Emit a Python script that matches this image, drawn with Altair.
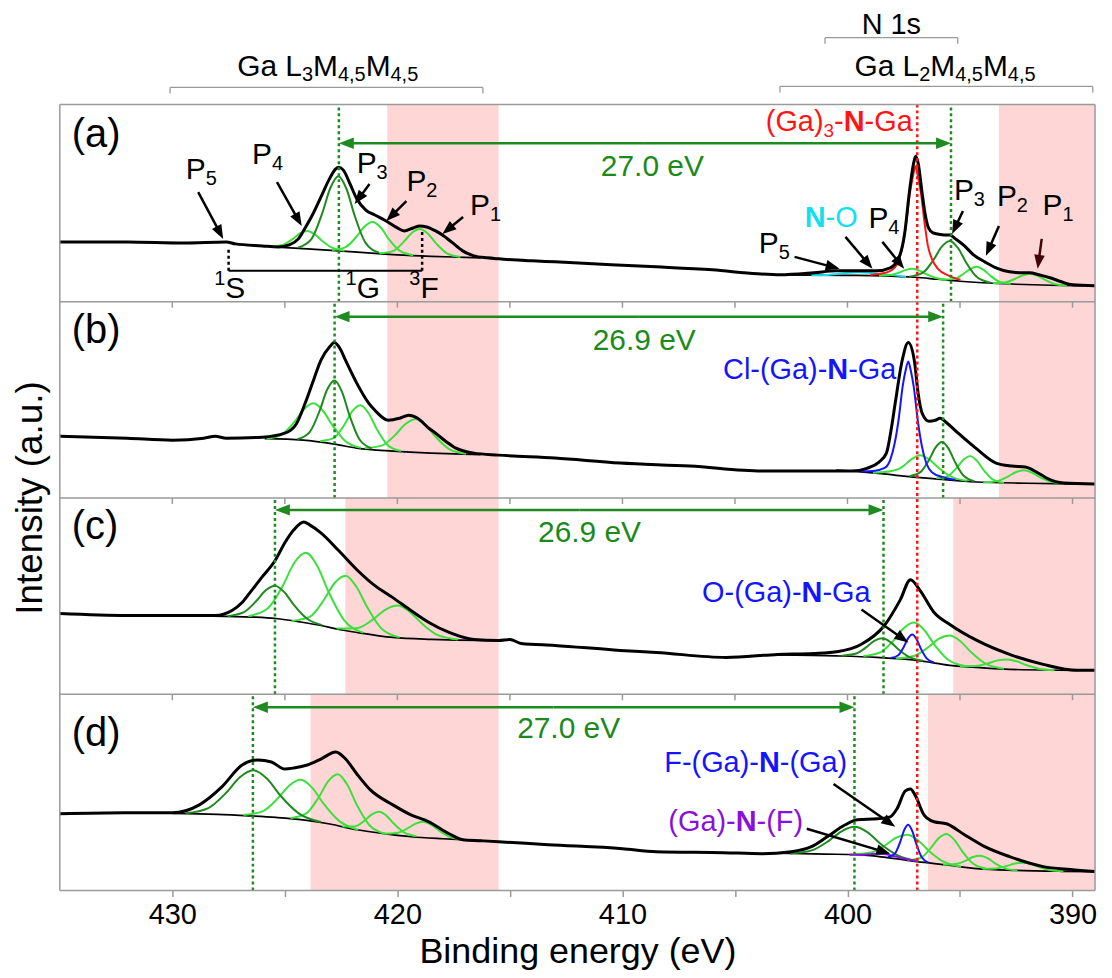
import math
import altair as alt
import pandas as pd

FONT = "Liberation Sans"
PLOT_W, PLOT_H = 1039, 789
E_HI, E_LO = 435.0, 389.0
PPE = PLOT_W / (E_HI - E_LO)          # pixels per eV

TICK_VALUES = [430, 425, 420, 415, 410, 405, 400, 395, 390]
BASE = {"a": 591, "b": 394, "c": 197, "d": 0, "top": 0}
TOPY = {"a": 789, "b": 591, "c": 394, "d": 197}

BLACK = "#000000"
DG = "#1e8a1e"
LG = "#3ce03c"
RED = "#ff1414"
BLUE = "#1414ff"
CYAN = "#12dff0"
PURPLE = "#8a10e0"
PINK = "#ffd6d6"
FRAME = "#9a9a9a"
GTXT = "#1b8a1b"
GARROW = "#1f8a1f"
MAROON = "#420808"

# ---------------- measured spectra (binding energy, intensity a.u.) ----------------
A_DATA_E = [435.0, 432.0, 429.5, 427.6, 427.2, 426.0, 425.3, 424.8, 424.4, 424.1, 423.8, 423.4, 423.0, 422.75,
            422.6, 422.4, 422.1, 421.8, 421.4, 421.0, 420.5, 420.0, 419.7, 419.3, 419.0, 418.7, 418.3, 418.0,
            417.6, 417.1, 416.6, 416.0, 415.5, 414.0, 413.0, 410.5, 408.5, 406.0, 404.0, 403.0, 401.5, 400.5,
            399.5, 398.7, 398.1, 397.7, 397.45, 397.25, 397.05, 396.97, 396.85, 396.7, 396.55, 396.4, 396.2,
            396.0, 395.7, 395.45, 395.2, 394.8, 394.4, 393.9, 393.4, 392.8, 392.2, 391.9, 391.5, 391.0, 390.5,
            390.0, 389.0]
A_DATA_I = [60, 60, 59, 60, 58, 56, 55, 57, 63, 74, 86, 105, 124, 133,
            135, 132, 118, 103, 92, 87, 81, 74, 71, 74, 76, 75, 71, 67,
            60, 51, 46, 44, 43, 41, 40, 37, 35, 32, 28, 27, 29, 31,
            31, 31, 34, 45, 70, 110, 140, 146, 138, 112, 88, 74, 69,
            68, 67, 67, 63, 56, 47, 40, 34, 30, 29, 29, 27, 24, 20,
            17, 16]

B_DATA_E = [435.0, 432.0, 430.0, 428.6, 428.1, 427.6, 426.0, 425.0, 424.5, 424.1, 423.7, 423.4, 423.0, 422.8,
            422.55, 422.3, 421.8, 421.3, 421.0, 420.4, 419.9, 419.5, 419.1, 418.6, 418.3, 417.8, 417.4, 416.6,
            415.5, 413.0, 410.1, 407.0, 403.8, 401.5, 399.8, 399.1, 398.6, 398.27, 398.05, 397.88, 397.57, 397.3,
            397.03, 396.86, 396.68, 396.37, 396.1, 395.88, 395.57, 395.08, 394.3, 393.4, 392.7, 392.1, 391.6,
            391.15, 390.4, 389.0]
B_DATA_I = [62, 60, 58, 60, 62, 60, 61, 65, 74, 95, 120, 138, 152, 156,
            150, 138, 115, 96, 88, 78, 80, 83, 80, 70, 65, 56, 50, 45,
            43, 40, 35, 32, 27, 27, 27, 30, 36, 45, 70, 95, 138, 156,
            138, 105, 85, 77, 78, 80, 75, 65, 50, 35, 32, 31, 26,
            20, 15, 14]

C_DATA_E = [435.0, 432.0, 430.0, 428.1, 427.35, 426.9, 426.55, 426.0, 425.44, 425.0, 424.6, 424.16, 423.9, 423.4,
            422.6, 421.8, 421.0, 420.2, 419.4, 418.6, 417.7, 416.6, 415.5, 415.0, 414.5, 413.0, 410.1, 408.5,
            405.4, 403.1, 401.5, 400.4, 399.4, 398.36, 397.65, 397.2, 396.77, 396.15, 395.45, 394.25, 392.8,
            391.3, 389.8, 389.0]
C_DATA_I = [81, 79, 79, 79, 84, 92, 102, 118, 134, 152, 165, 173, 170, 162,
            144, 125, 109, 97, 84, 72, 62, 55, 54, 55, 51, 49, 44, 42,
            37, 40, 41, 43, 50, 69, 95, 115, 104, 82, 70, 54, 40,
            30, 24, 24]

D_DATA_E = [435.0, 432.1, 430.0, 428.8, 427.8, 426.9, 426.2, 425.6, 425.0, 424.6, 424.0, 423.4, 422.74, 422.3,
            421.8, 421.2, 420.2, 419.4, 418.6, 417.7, 417.1, 416.3, 415.5, 413.3, 410.0, 408.5, 405.5, 403.8,
            402.5, 401.6, 400.9, 400.1, 399.56, 398.67, 398.1, 397.8, 397.43, 397.2, 397.0, 396.6, 396.15,
            395.6, 394.8, 393.9, 392.8, 391.3, 390.1, 389.0]
D_DATA_I = [77, 78, 78, 86, 104, 126, 131, 129, 122, 123, 126, 132, 139, 132,
            117, 101, 86, 76, 69, 57, 51, 50, 49, 46, 42, 39, 38, 37,
            39, 44, 54, 66, 71, 72, 74, 82, 100, 102, 96, 76, 69,
            67, 56, 44, 34, 24, 21, 19]

# ---------------- backgrounds ----------------
A_BG_GA = ([425.5, 424.0, 422.6, 421.0, 420.0, 418.5, 417.0, 416.3], [55, 53, 51, 48.5, 47, 45.5, 44.5, 44])
A_BG_N = ([403.2, 400.0, 398.5, 397.0, 396.0, 395.0, 394.0, 392.5, 391.0, 389.5],
          [27, 26.5, 26, 24.5, 22.5, 20.5, 19, 17.5, 16.5, 16])
B_BG_GA = ([425.9, 424.2, 422.8, 421.8, 420.2, 418.5, 417.1, 416.3], [59.5, 58, 54, 50, 47, 45, 44, 43.5])
B_BG_N = ([400.5, 399.8, 398.5, 397.5, 396.0, 394.3, 392.0, 389.5], [28, 27, 24.5, 22, 19, 16, 14.8, 14])
C_BG_GA = ([428.2, 426.5, 425.4, 424.3, 423.4, 422.6, 421.8, 420.2, 418.5, 416.3, 415.5],
           [78.5, 77.5, 76, 72.5, 69, 65, 62, 57, 55, 54, 54])
C_BG_N = ([403.1, 400.5, 398.7, 396.9, 395.45, 394.0, 392.8, 389.8], [39.5, 38.5, 37, 34, 29, 26.5, 25, 24])
D_BG_GA = ([430.0, 428.0, 426.6, 425.4, 424.2, 423.0, 421.8, 420.5, 419.4, 418.0, 417.1, 416.3],
           [77.5, 76.5, 75, 73.4, 71, 66.8, 61, 56.8, 54, 52, 51, 50.2])
D_BG_N = ([403.1, 401.0, 399.56, 398.3, 396.9, 395.5, 394.25, 392.5, 390.5, 389.0],
          [37.5, 36.6, 36, 33.3, 29, 25.5, 22, 20.2, 19.3, 19])

# ---------------- fitted components ----------------
A_GA_1 = ([425.65, 425.1, 424.66, 424.33, 424.0, 423.67, 423.34, 422.9, 422.35], [55.2, 56.9, 62.8, 68.5, 71, 67.5, 61, 54.2, 51.2])
A_GA_2 = ([424.42, 423.82, 423.34, 422.98, 422.62, 422.26, 421.9, 421.42, 420.82], [54.3, 62.9, 88.7, 114.1, 126, 113.1, 86.5, 59.3, 49.1])
A_GA_3 = ([422.9, 422.3, 421.82, 421.46, 421.1, 420.74, 420.38, 419.9, 419.3], [51.8, 54.8, 65.2, 75.5, 80, 74.4, 62.9, 51.3, 46.7])
A_GA_4 = ([420.8, 420.2, 419.72, 419.36, 419.0, 418.64, 418.28, 417.8, 417.2], [48.5, 50.8, 60, 69, 73, 68.2, 58.5, 48.6, 44.9])
A_N_NO = ([401.6, 400.9, 400.34, 399.92, 399.5, 399.08, 398.66, 398.1, 397.4], [26.5, 26.9, 28, 29, 29.5, 29, 28, 26.9, 25])
A_N_4 = ([398.6, 398.1, 397.7, 397.4, 397.1, 396.8, 396.5, 396.1, 395.6], [26.1, 26.7, 29.3, 31.9, 33, 31.2, 27.7, 24, 21.9])
A_N_RED = ([398.98, 398.48, 397.98, 397.73, 397.53, 397.38, 397.23, 397.1, 396.98, 396.86, 396.73, 396.58,
            396.43, 396.23, 395.98, 395.48, 394.98],
           [26.9, 28.2, 32.6, 41.3, 58, 80.9, 108.7, 124.6, 136, 124.3, 108.1, 79.8, 56.5, 42, 33, 26, 22])
A_N_3 = ([397.25, 396.65, 396.17, 395.81, 395.45, 395.09, 394.73, 394.25, 393.65], [25.1, 29.1, 42.2, 55.2, 61, 53.9, 39.4, 24.7, 19.1])
A_N_2 = ([395.75, 395.25, 394.85, 394.55, 394.25, 393.95, 393.65, 393.25, 392.75], [22.2, 22.9, 27.8, 32.7, 35, 31.9, 26.1, 20.1, 18])
A_N_1 = ([393.55, 393.0, 392.56, 392.23, 391.9, 391.57, 391.24, 390.8, 390.25], [18.5, 19.3, 22.8, 26.3, 28, 26.1, 22.1, 17.8, 16.2])

B_GA_1 = ([425.82, 425.12, 424.56, 424.14, 423.72, 423.3, 422.88, 422.32, 421.62], [59.4, 63.9, 76.8, 89.3, 95, 87.3, 72.8, 57.3, 50.4])
B_GA_2 = ([424.44, 423.89, 423.45, 423.12, 422.79, 422.46, 422.13, 421.69, 421.14], [58.9, 66.4, 87.8, 108.8, 118, 106.4, 83, 59, 49.7])
B_GA_3 = ([423.44, 422.84, 422.36, 422.0, 421.64, 421.28, 420.92, 420.44, 419.84], [57, 60, 73.3, 87.1, 93, 85, 69.3, 53.2, 47.1])
B_GA_4 = ([421.45, 420.7, 420.1, 419.65, 419.2, 418.75, 418.3, 417.7, 416.95], [49.9, 52.5, 63.1, 74, 79, 73.2, 61.3, 49.1, 44.4])
B_N_BLUE = ([399.4, 398.85, 398.35, 398.1, 397.9, 397.72, 397.55, 397.42, 397.3, 397.18, 397.05, 396.88,
             396.7, 396.5, 396.25, 395.75, 395.2],
            [26.6, 27, 30.1, 38.3, 55.1, 80, 111.8, 127.6, 137, 127.2, 110.8, 78.3, 52.7, 35.1, 25.9, 20.8, 18.1])
B_N_4 = ([398.87, 398.17, 397.61, 397.19, 396.77, 396.35, 395.93, 395.37, 394.67], [25.3, 26.5, 30.4, 38.3, 42.9, 38.4, 29.9, 21.2, 17.2])
B_N_3 = ([397.24, 396.76, 396.38, 396.09, 395.8, 395.51, 395.22, 394.84, 394.36], [21.9, 25.9, 38.1, 50.5, 56.1, 49.5, 36, 22.3, 16.8])
B_N_2 = ([396.05, 395.55, 395.15, 394.85, 394.55, 394.25, 393.95, 393.55, 393.05], [19.8, 21.9, 30.2, 38.3, 42, 37.3, 28, 18.7, 15.3])
B_N_1 = ([393.97, 393.37, 392.89, 392.53, 392.17, 391.81, 391.45, 390.97, 390.37], [15.4, 16.9, 21.3, 25.8, 27.8, 25.6, 20.9, 16.3, 14.5])

C_GA_1 = ([427.54, 426.84, 426.28, 425.86, 425.44, 425.02, 424.6, 424.04, 423.34], [78.4, 82.1, 93.3, 104.1, 109, 102.4, 89.6, 76.2, 69.4])
C_GA_2 = ([426.62, 425.77, 425.09, 424.58, 424.07, 423.56, 423.05, 422.37, 421.52], [78.3, 86, 109, 132, 142, 128.8, 102.4, 74.5, 61.8])
C_GA_3 = ([424.7, 423.9, 423.26, 422.78, 422.3, 421.82, 421.34, 420.7, 419.9], [73.6, 77.6, 94.8, 111.9, 119, 107.9, 87.3, 65.7, 57.1])
C_GA_4 = ([422.7, 421.8, 421.08, 420.54, 420.0, 419.46, 418.92, 418.2, 417.3], [65.9, 66.3, 75.1, 84.7, 89, 82.9, 71.2, 59.3, 54.9])
C_N_DG = ([400.25, 399.65, 399.17, 398.81, 398.45, 398.09, 397.73, 397.25, 396.65], [38.7, 40.6, 47.1, 53.5, 56.1, 52.3, 44.9, 37.3, 33.7])
C_N_LG1 = ([399.29, 398.54, 397.94, 397.49, 397.04, 396.59, 396.14, 395.54, 394.79], [38.4, 42.1, 54.2, 66.5, 72, 64.5, 49.9, 34.9, 28.4])
C_N_BLUE = ([398.08, 397.76, 397.5, 397.31, 397.12, 396.93, 396.74, 396.48, 396.16], [36.3, 38.9, 47.5, 56.1, 60, 55.3, 45.8, 36, 31.8])
C_N_LG2 = ([397.85, 397.05, 396.41, 395.93, 395.45, 394.97, 394.49, 393.85, 393.05], [35.9, 38.4, 47.2, 55.8, 59, 53, 41.8, 30.5, 25.7])
C_N_LG3 = ([395.0, 394.3, 393.74, 393.32, 392.9, 392.48, 392.06, 391.5, 390.8], [28.2, 28.4, 31.1, 34, 35, 33.1, 29.4, 25.7, 24.2])

D_GA_1 = ([429.4, 428.4, 427.6, 427.0, 426.4, 425.8, 425.2, 424.4, 423.4], [77.5, 82.8, 98.4, 113.8, 120.8, 112.4, 95.4, 77.7, 68.7])
D_GA_2 = ([426.84, 425.99, 425.31, 424.8, 424.29, 423.78, 423.27, 422.59, 421.74], [75.8, 79.5, 92.5, 105.5, 111.2, 103.1, 86.9, 69.9, 61.0])
D_GA_3 = ([424.75, 424.05, 423.49, 423.07, 422.65, 422.23, 421.81, 421.25, 420.55], [72.6, 77.4, 93.7, 109.9, 116.8, 106.4, 86.3, 65.8, 57.0])
D_GA_4 = ([422.45, 421.9, 421.46, 421.13, 420.8, 420.47, 420.14, 419.7, 419.15], [64.2, 64.3, 70.2, 76.5, 79, 74.7, 66.7, 58.3, 54.5])
D_GA_5 = ([420.65, 420.05, 419.57, 419.21, 418.85, 418.49, 418.13, 417.65, 417.05], [57, 57.7, 62.1, 66.9, 69.1, 65.9, 59.9, 53.7, 51.2])
D_N_DG = ([402.54, 401.59, 400.83, 400.26, 399.69, 399.12, 398.55, 397.79, 396.84], [37.1, 40.3, 49.9, 59.5, 63.9, 58.6, 47.3, 35.6, 29.3])
D_N_LGA = ([399.75, 398.95, 398.31, 397.83, 397.35, 396.87, 396.39, 395.75, 394.95], [36.3, 38.2, 45.7, 53.2, 56, 50.5, 40, 29.2, 23.8])
D_N_PURPLE = ([399.9, 399.4, 399.0, 398.7, 398.4, 398.1, 397.8, 397.4, 396.9], [36, 35.9, 36.5, 36.9, 36.7, 35.5, 33.8, 31.6, 29.5])
D_N_BLUE = ([398.2, 397.9, 397.66, 397.48, 397.3, 397.12, 396.94, 396.7, 396.4], [33.8, 36.9, 48.5, 60.6, 66, 59.6, 46.7, 33.4, 28])
D_N_LGB = ([397.34, 396.76, 396.3, 395.95, 395.6, 395.25, 394.9, 394.44, 393.86], [30.3, 32.7, 42.6, 52.4, 56.8, 50.9, 39.3, 27.4, 22.1])
D_N_LGC = ([395.75, 395.2, 394.76, 394.43, 394.1, 393.77, 393.44, 393.0, 392.45], [25.9, 26.6, 29.8, 33.6, 35, 32.4, 27.3, 22.3, 20.1])
D_N_LGD = ([394.0, 393.4, 392.92, 392.56, 392.2, 391.84, 391.48, 391.0, 390.4], [21.9, 22.2, 24.6, 27.1, 28, 26.5, 23.5, 20.5, 19.3])

# ---------------- annotation values ----------------
PINK_PANEL = ["a", "a", "b", "b", "c", "c", "d", "d"]
PINK_E1 = [420.45, 393.27, 420.45, 393.27, 422.31, 395.3, 423.86, 396.42]
PINK_E2 = [415.5, 389.0, 415.5, 389.0, 415.5, 389.0, 415.5, 389.0]

GDOT_PANEL = ["a", "a", "b", "b", "c", "c", "d", "d"]
GDOT_E = [422.6, 395.4, 422.79, 395.75, 425.44, 398.4, 426.42, 399.69]
RED_DOT_E = 396.9

SHIFT_PANEL = ["a", "b", "c", "d"]
SHIFT_E1 = [422.6, 422.79, 425.44, 426.42]
SHIFT_E2 = [395.4, 395.75, 398.4, 399.69]
SHIFT_H = [159, 182, 185, 184]
SHIFT_TEXT = ["27.0 eV", "26.9 eV", "26.9 eV", "27.0 eV"]
SHIFT_TEXT_E = [408.67, 409.03, 411.46, 412.39]
SHIFT_TEXT_H = [135, 158, 162, 162]

ARROW_PANEL = ["a"] * 11 + ["c", "d", "d"]
ARROW_E1 = [428.85, 425.35, 421.24, 419.6, 417.08, 402.35, 400.09, 398.45, 394.87, 393.27, 391.37, 399.38, 400.62, 401.81]
ARROW_H1 = [110, 120, 118, 101, 85, 45, 65, 60, 91, 76, 63, 85, 107, 62]
ARROW_E2 = [427.74, 424.25, 421.9, 420.49, 418.0, 400.35, 398.89, 397.48, 395.35, 393.85, 391.55, 397.3, 397.88, 398.1]
ARROW_H2 = [63, 76, 98, 81, 68, 33, 33, 33, 68, 46, 33, 52, 64, 37]
ARROW_COLOR = [BLACK] * 10 + [MAROON] + [BLACK] * 3

P_SUB = ["5", "4", "3", "2", "1", "5", "4", "3", "2", "1"]
P_E = [429.4, 426.46, 421.81, 419.6, 416.77, 403.94, 399.07, 395.27, 393.36, 391.33]
P_H = [132, 147, 138, 120, 96, 58, 83, 111, 105, 96]

PANEL_LABELS = ["(a)", "(b)", "(c)", "(d)"]
PANEL_LABEL_H = [167, 168, 168, 157]
PANEL_LABEL_E = 434.47

TERM_E = [427.5, 418.9]
TERM_TOP = [53, 72]
TERM_LINE_H = 31

BRACKET_E1 = [401.0, 403.0, 430.1]
BRACKET_E2 = [395.1, 389.1, 416.2]
BRACKET_Y = [856, 807, 806]

# ---------------- build tables ----------------
data_rows, bg_rows, comp_rows = [], [], []


def add_curve(rows, panel, name, pair, color):
    for e, i in zip(pair[0], pair[1]):
        rows.append({"E": e, "Y": BASE[panel] + i, "key": f"{panel}-{name}", "color": color})


for p, E, I in [("a", A_DATA_E, A_DATA_I), ("b", B_DATA_E, B_DATA_I),
                ("c", C_DATA_E, C_DATA_I), ("d", D_DATA_E, D_DATA_I)]:
    add_curve(data_rows, p, "data", (E, I), BLACK)

for p, n, pair in [("a", "g", A_BG_GA), ("a", "n", A_BG_N), ("b", "g", B_BG_GA), ("b", "n", B_BG_N),
                   ("c", "g", C_BG_GA), ("c", "n", C_BG_N), ("d", "g", D_BG_GA), ("d", "n", D_BG_N)]:
    add_curve(bg_rows, p, "bg" + n, pair, BLACK)

COMPONENTS = [
    ("a", "g1", A_GA_1, LG), ("a", "g3", A_GA_3, LG), ("a", "g4", A_GA_4, LG), ("a", "g2", A_GA_2, DG),
    ("a", "no", A_N_NO, CYAN), ("a", "n4", A_N_4, LG), ("a", "n2", A_N_2, LG), ("a", "n1", A_N_1, LG),
    ("a", "n3", A_N_3, DG), ("a", "red", A_N_RED, RED),
    ("b", "g1", B_GA_1, LG), ("b", "g3", B_GA_3, LG), ("b", "g4", B_GA_4, LG), ("b", "g2", B_GA_2, DG),
    ("b", "n4", B_N_4, LG), ("b", "n2", B_N_2, LG), ("b", "n1", B_N_1, LG), ("b", "n3", B_N_3, DG),
    ("b", "blue", B_N_BLUE, BLUE),
    ("c", "g2", C_GA_2, LG), ("c", "g3", C_GA_3, LG), ("c", "g4", C_GA_4, LG), ("c", "g1", C_GA_1, DG),
    ("c", "n1", C_N_LG1, LG), ("c", "n2", C_N_LG2, LG), ("c", "n3", C_N_LG3, LG), ("c", "dg", C_N_DG, DG),
    ("c", "blue", C_N_BLUE, BLUE),
    ("d", "g2", D_GA_2, LG), ("d", "g3", D_GA_3, LG), ("d", "g4", D_GA_4, LG), ("d", "g5", D_GA_5, LG),
    ("d", "g1", D_GA_1, DG),
    ("d", "na", D_N_LGA, LG), ("d", "nb", D_N_LGB, LG), ("d", "nc", D_N_LGC, LG), ("d", "nd", D_N_LGD, LG),
    ("d", "dg", D_N_DG, DG), ("d", "pur", D_N_PURPLE, PURPLE), ("d", "blue", D_N_BLUE, BLUE),
]
for i, (p, n, pair, col) in enumerate(COMPONENTS):
    add_curve(comp_rows, p, f"{i:02d}{n}", pair, col)

data_df = pd.DataFrame(data_rows)
bg_df = pd.DataFrame(bg_rows)
comp_df = pd.DataFrame(comp_rows)

pink_df = pd.DataFrame({
    "E1": PINK_E1, "E2": PINK_E2,
    "Y1": [BASE[p] for p in PINK_PANEL], "Y2": [TOPY[p] for p in PINK_PANEL],
})

# frame: separators, outer box, ticks hanging below each panel join
frame_rows = []
for yb in [0, 197, 394, 591, 789]:
    frame_rows.append({"E1": E_HI, "E2": E_LO, "Y1": yb, "Y2": yb})
for e in [E_HI, E_LO]:
    frame_rows.append({"E1": e, "E2": e, "Y1": 0, "Y2": 789})
for yb in [197, 394, 591]:
    for t in TICK_VALUES:
        frame_rows.append({"E1": t, "E2": t, "Y1": yb, "Y2": yb - 6})
frame_df = pd.DataFrame(frame_rows)

dot_rows = []
for p, e in zip(GDOT_PANEL, GDOT_E):
    dot_rows.append({"E1": e, "Y1": BASE[p], "Y2": TOPY[p], "color": GARROW})
dot_rows.append({"E1": RED_DOT_E, "Y1": 0, "Y2": 789, "color": RED})
for e, top in zip(TERM_E, TERM_TOP):
    dot_rows.append({"E1": e, "Y1": BASE["a"] + TERM_LINE_H, "Y2": BASE["a"] + top, "color": BLACK})
dot_df = pd.DataFrame(dot_rows)

arrow_rows, head_rows = [], []
SHAPE = "M0,0L-0.38,1L0.38,1Z"


def add_arrow(E1, Y1, E2, Y2, color, width, head):
    dx = (E1 - E2) * PPE
    dy = (Y2 - Y1)
    L = math.hypot(dx, dy)
    ux, uy = dx / L, dy / L
    back = head * 0.75
    arrow_rows.append({"E1": E1, "Y1": Y1, "E2": E2 + ux * back / PPE, "Y2": Y2 - uy * back,
                       "color": color, "w": width})
    ang = math.degrees(math.atan2(dx, dy)) % 360
    head_rows.append({"E": E2, "Y": Y2, "ang": ang, "color": color, "s": 4 * head * head})


for p, e1, h1, e2, h2, col in zip(ARROW_PANEL, ARROW_E1, ARROW_H1, ARROW_E2, ARROW_H2, ARROW_COLOR):
    add_arrow(e1, BASE[p] + h1, e2, BASE[p] + h2, col, 2.5, 14)

for p, e1, e2, h in zip(SHIFT_PANEL, SHIFT_E1, SHIFT_E2, SHIFT_H):
    mid = (e1 + e2) / 2
    add_arrow(mid, BASE[p] + h, e1, BASE[p] + h, GARROW, 2.5, 15)
    add_arrow(mid, BASE[p] + h, e2, BASE[p] + h, GARROW, 2.5, 15)

# solid black line of the 1S-1G-3F scale
arrow_rows.append({"E1": TERM_E[0], "Y1": BASE["a"] + TERM_LINE_H, "E2": TERM_E[1],
                   "Y2": BASE["a"] + TERM_LINE_H, "color": BLACK, "w": 2})
arrow_df = pd.DataFrame(arrow_rows)
head_df = pd.DataFrame(head_rows)

br_rows = []
for e1, e2, y in zip(BRACKET_E1, BRACKET_E2, BRACKET_Y):
    br_rows.append({"E1": e1, "E2": e2, "Y1": y, "Y2": y})
    br_rows.append({"E1": e1, "E2": e1, "Y1": y, "Y2": y - 6})
    br_rows.append({"E1": e2, "E2": e2, "Y1": y, "Y2": y - 6})
br_df = pd.DataFrame(br_rows)

# ---------------- text (segments for sub/superscripts and bold) ----------------
CW = {"(": 333, ")": 333, "G": 778, "a": 556, "-": 333, "N": 722, "C": 722, "l": 222, "O": 778,
      "F": 611, "P": 667, "S": 667, " ": 278, "L": 556, "M": 833, ",": 278, "e": 556, "V": 667,
      ".": 278, "s": 500}
norm_rows, bold_rows = [], []


def seg_size(kind, size):
    return size if kind in ("n", "b") else round(size * 0.65)


def twidth(s, fs):
    return sum(CW.get(ch, 556) for ch in s) * fs / 1000.0


def label(E_left, Y, parts, color, size):
    x = 0.0
    for txt, kind in parts:
        fs = seg_size(kind, size)
        dy = {"n": 0, "b": 0, "sub": -0.3 * size, "sup": 0.33 * size}[kind]
        row = {"E": E_left - x / PPE, "Y": Y + dy, "text": txt, "color": color, "size": fs}
        (bold_rows if kind == "b" else norm_rows).append(row)
        x += twidth(txt, fs)


def label_c(E_c, Y, parts, color, size):
    total = sum(twidth(t, seg_size(k, size)) for t, k in parts)
    label(E_c + total / 2 / PPE, Y, parts, color, size)


for txt, h, p in zip(PANEL_LABELS, PANEL_LABEL_H, ["a", "b", "c", "d"]):
    label(PANEL_LABEL_E, BASE[p] + h, [(txt, "n")], BLACK, 40)

for s, e, h in zip(P_SUB, P_E, P_H):
    label(e, BASE["a"] + h, [("P", "n"), (s, "sub")], BLACK, 30)

label(401.9, BASE["a"] + 84, [("N", "b"), ("-O", "n")], CYAN, 29)
label(403.63, BASE["a"] + 180, [("(Ga)", "n"), ("3", "sub"), ("-", "n"), ("N", "b"), ("-Ga", "n")], RED, 29)
label(405.53, BASE["b"] + 128, [("Cl-(Ga)-", "n"), ("N", "b"), ("-Ga", "n")], BLUE, 29)
label(406.46, BASE["c"] + 102, [("O-(Ga)-", "n"), ("N", "b"), ("-Ga", "n")], BLUE, 29)
label(408.14, BASE["d"] + 128, [("F-(Ga)-", "n"), ("N", "b"), ("-(Ga)", "n")], BLUE, 29)
label(407.96, BASE["d"] + 69, [("(Ga)-", "n"), ("N", "b"), ("-(F)", "n")], PURPLE, 29)

for p, t, e, h in zip(SHIFT_PANEL, SHIFT_TEXT, SHIFT_TEXT_E, SHIFT_TEXT_H):
    label_c(e, BASE[p] + h, [(t, "n")], GTXT, 30)

label(428.14, BASE["a"] + 13, [("1", "sup"), ("S", "n")], BLACK, 30)
label(422.3, BASE["a"] + 13, [("1", "sup"), ("G", "n")], BLACK, 30)
label(419.47, BASE["a"] + 13, [("3", "sup"), ("F", "n")], BLACK, 30)

label_c(398.05, 869, [("N 1s", "n")], BLACK, 29)
label(399.69, 827, [("Ga L", "n"), ("2", "sub"), ("M", "n"), ("4,5", "sub"), ("M", "n"), ("4,5", "sub")], BLACK, 30)
label(427.12, 827, [("Ga L", "n"), ("3", "sub"), ("M", "n"), ("4,5", "sub"), ("M", "n"), ("4,5", "sub")], BLACK, 30)

norm_df = pd.DataFrame(norm_rows)
bold_df = pd.DataFrame(bold_rows)

# ---------------- encodings ----------------
X_SCALE = alt.Scale(domain=[E_LO, E_HI], reverse=True, nice=False, zero=False)
Y_SCALE = alt.Scale(domain=[0, PLOT_H], nice=False, zero=False)
X_AXIS = alt.Axis(values=TICK_VALUES, labelExpr="datum.value % 10 === 0 ? datum.label : ''",
                  tickSize=6, tickWidth=1.5, tickColor=FRAME, domain=False, grid=False,
                  labelFont=FONT, labelFontSize=29, labelColor="black", labelPadding=4,
                  title="Binding energy (eV)", titleFont=FONT, titleFontSize=36,
                  titleFontWeight="normal", titleColor="black", titlePadding=5)
Y_AXIS = alt.Axis(title="Intensity (a.u.)", labels=False, ticks=False, domain=False, grid=False,
                  titleFont=FONT, titleFontSize=37, titleFontWeight="normal", titleColor="black",
                  titlePadding=10)


def X(f):
    return alt.X(f, type="quantitative", scale=X_SCALE, axis=X_AXIS)


def Y(f):
    return alt.Y(f, type="quantitative", scale=Y_SCALE, axis=Y_AXIS)


pink = alt.Chart(pink_df).mark_rect(color=PINK).encode(x=X("E1"), x2="E2:Q", y=Y("Y1"), y2="Y2:Q")

frame = alt.Chart(frame_df).mark_rule(color=FRAME, strokeWidth=1.5).encode(
    x=X("E1"), x2="E2:Q", y=Y("Y1"), y2="Y2:Q")

bg = alt.Chart(bg_df).mark_line(color=BLACK, strokeWidth=1.7, interpolate="monotone").encode(
    x=X("E"), y=Y("Y"), detail="key:N", order=alt.Order("E:Q", sort="descending"))

comps = alt.Chart(comp_df).mark_line(strokeWidth=2, interpolate="monotone").encode(
    x=X("E"), y=Y("Y"), detail="key:N", color=alt.Color("color:N", scale=None),
    order=alt.Order("E:Q", sort="descending"))

data = alt.Chart(data_df).mark_line(color=BLACK, strokeWidth=3, interpolate="monotone",
                                    strokeJoin="round").encode(
    x=X("E"), y=Y("Y"), detail="key:N", order=alt.Order("E:Q", sort="descending"))

dots = alt.Chart(dot_df).mark_rule(strokeDash=[3, 3], strokeWidth=2.5).encode(
    x=X("E1"), y=Y("Y1"), y2="Y2:Q", color=alt.Color("color:N", scale=None))

arrows = alt.Chart(arrow_df).mark_rule().encode(
    x=X("E1"), x2="E2:Q", y=Y("Y1"), y2="Y2:Q", color=alt.Color("color:N", scale=None),
    size=alt.Size("w:Q", scale=None))

heads = alt.Chart(head_df).mark_point(shape=SHAPE, filled=True, opacity=1, strokeWidth=0).encode(
    x=X("E"), y=Y("Y"), angle=alt.Angle("ang:Q", scale=None), color=alt.Color("color:N", scale=None),
    size=alt.Size("s:Q", scale=None))

brackets = alt.Chart(br_df).mark_rule(color=FRAME, strokeWidth=1.3).encode(
    x=X("E1"), x2="E2:Q", y=Y("Y1"), y2="Y2:Q")

texts = alt.Chart(norm_df).mark_text(align="left", baseline="middle", font=FONT).encode(
    x=X("E"), y=Y("Y"), text="text:N", color=alt.Color("color:N", scale=None),
    size=alt.Size("size:Q", scale=None))

btexts = alt.Chart(bold_df).mark_text(align="left", baseline="middle", font=FONT, fontWeight="bold").encode(
    x=X("E"), y=Y("Y"), text="text:N", color=alt.Color("color:N", scale=None),
    size=alt.Size("size:Q", scale=None))

chart = alt.layer(pink, bg, comps, data, dots, arrows, heads, frame, brackets, texts, btexts).properties(
    width=PLOT_W, height=PLOT_H, padding={"left": 4, "top": 0, "right": 5, "bottom": 0},
    background="white"
).configure_view(stroke=None)

chart.save("out.html", embed_options={"renderer": "svg", "actions": False})
